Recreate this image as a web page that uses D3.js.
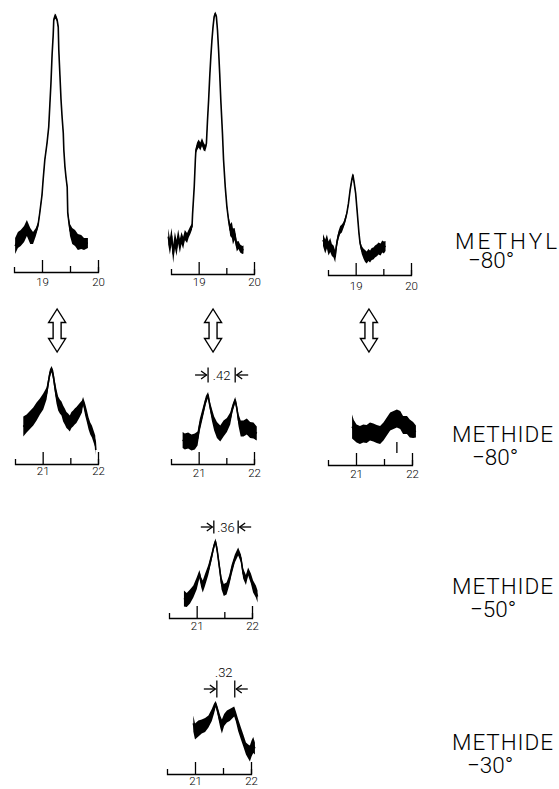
<!DOCTYPE html>
<html>
<head>
<meta charset="utf-8">
<script src="https://cdn.jsdelivr.net/npm/d3@7"></script>
<style>
body{margin:0;background:#fff}
svg{display:block}
</style>
</head>
<body>
<svg id="chart" width="559" height="789"></svg>
<script>
// spectra: [ppm, intensity, noise half-width]
const methylA = [[18.52,13,4],[18.57,16,4],[18.62,17,4],[18.68,19,4],[18.73,22,4],[18.79,18,4],[18.84,17,3],[18.89,20,2],[18.93,23.5,1.5],[18.96,29.5,1],[19.00,38.5,1],[19.02,46,1],[19.05,56,0.8],[19.09,64.5,0.8],[19.12,72.5,0.8],[19.14,83.5,0.6],[19.16,94.5,0.6],[19.18,108.5,0.6],[19.20,118.5,0.6],[19.21,126,0.8],[19.23,128,1.2],[19.25,127.5,1.2],[19.27,126,0.8],[19.29,122.5,0.6],[19.30,111,0.6],[19.32,98.5,0.6],[19.34,86,0.6],[19.36,77,0.6],[19.38,69.5,0.6],[19.39,61,0.6],[19.41,52.5,0.8],[19.43,47,0.8],[19.45,42.5,1],[19.46,29.5,1.5],[19.48,25,2],[19.50,21,3],[19.54,18,4],[19.59,17,4],[19.64,15,4],[19.70,15,3.5],[19.75,14,3],[19.82,14.5,2.5]]
const methylB = [[18.45,18.7,4],[18.48,13.7,4],[18.51,19,4],[18.54,10,4.5],[18.57,17,4],[18.60,13,4],[18.63,18.7,3.5],[18.66,14,3.5],[18.69,18,3],[18.72,15.5,3],[18.75,19.5,2.5],[18.79,18,2.5],[18.82,20.3,2],[18.85,22,2],[18.88,23.7,1.5],[18.89,30,1],[18.92,43.7,0.8],[18.94,57,1],[18.95,62,1.5],[18.97,63.7,2],[19.00,65.3,2],[19.03,63.7,2],[19.06,66,2],[19.09,63.7,2],[19.12,62.8,1.5],[19.14,65.3,1],[19.16,77,0.6],[19.18,87,0.6],[19.20,98.7,0.6],[19.22,108.7,0.6],[19.24,117,0.6],[19.26,123.7,0.6],[19.28,128.7,0.8],[19.30,130.3,1],[19.32,128.7,0.8],[19.34,122,0.6],[19.36,112,0.6],[19.38,100.3,0.6],[19.40,87,0.6],[19.43,70.3,0.6],[19.45,57,0.6],[19.48,43.7,0.8],[19.51,33.7,1],[19.54,27,1.5],[19.57,22,3],[19.60,22,4],[19.62,18.7,4],[19.65,20,3],[19.67,17,3],[19.69,13.7,2.5],[19.72,14.5,2],[19.75,12.8,2],[19.79,12,2],[19.81,12.3,2]]
const methylC = [[18.41,17.5,3],[18.45,14.2,3.5],[18.48,16.7,3.5],[18.51,13.3,3.5],[18.54,15,3.5],[18.57,12.5,3],[18.60,11.7,3],[18.63,9.2,3],[18.65,14.2,2.5],[18.67,17.5,2],[18.69,20,2],[18.72,22.5,2],[18.75,23.3,2],[18.78,25,1.5],[18.81,27.5,1.5],[18.84,30.8,1],[18.87,35.8,1],[18.90,42.5,1],[18.93,47.5,1],[18.95,50,1],[18.97,46.7,1],[19.00,40.8,1],[19.02,34.2,1],[19.04,27.5,1],[19.06,20.8,1],[19.08,15.8,1.5],[19.11,12.5,2],[19.14,10.8,2.5],[19.17,9.5,3],[19.20,8.8,3],[19.23,10,3],[19.26,9.2,3],[19.29,10.5,3],[19.32,10.8,3],[19.35,11.7,3],[19.39,12.5,3],[19.41,13.3,3],[19.45,12.8,3],[19.48,14.2,3],[19.51,13.8,3],[19.54,14.5,2.5]]
const methide80a = [[20.65,18.7,5],[20.71,20.3,4.5],[20.77,22,4.5],[20.83,23.7,4.5],[20.89,26.2,4.5],[20.95,28.7,4],[21.01,31.2,4],[21.07,35.3,3],[21.10,40.3,2.5],[21.13,45.3,2],[21.16,47.5,1.5],[21.19,44.5,2.5],[21.22,38.7,3],[21.25,33.7,3.5],[21.28,30.3,3.5],[21.31,28.7,3.5],[21.34,27.8,3.5],[21.37,25.3,4],[21.40,23.7,4],[21.43,22,4],[21.46,21.2,4],[21.49,20.3,4],[21.52,22,4],[21.55,22.8,4],[21.58,23.7,4],[21.61,24.5,4],[21.67,27,3.5],[21.71,28.7,3],[21.73,31.5,2],[21.77,27,3],[21.80,23.7,3],[21.83,20.3,3],[21.86,17.8,3],[21.89,16.2,3],[21.92,13.7,3],[21.95,11.2,3],[21.96,7,2.5]]
const methide80b = [[20.71,12,4],[20.75,11.2,4],[20.81,11.7,4],[20.87,10.7,4],[20.93,11.2,4],[20.98,12.8,3.5],[21.02,19.5,3],[21.08,26.2,2.5],[21.13,32,2],[21.17,34.5,1.5],[21.20,29.5,2],[21.24,24.5,3],[21.28,20.3,3.5],[21.33,17,4],[21.39,15.3,4],[21.45,17.8,4],[21.51,19.5,3.5],[21.57,22.8,3],[21.61,27.8,2],[21.66,32,1.5],[21.69,27.8,2],[21.72,22,3],[21.76,17.8,4],[21.81,17.8,4],[21.87,18.7,4],[21.93,17,4],[21.99,16.7,4],[22.05,15.3,3.5]]
const methide80c = [[20.93,19.2,6],[20.96,17.5,5],[21.01,15.8,4.5],[21.07,15,4.5],[21.13,15.8,4.5],[21.19,15.5,4.5],[21.25,16.7,4.5],[21.31,16.2,4.5],[21.37,15.5,4.5],[21.43,15,4.5],[21.49,16.7,4.5],[21.55,19.2,4.5],[21.61,21.7,4.5],[21.67,22.5,4.5],[21.73,23.3,4.5],[21.79,22.5,4.5],[21.84,20,4.5],[21.91,20,4.5],[21.96,18.3,4.5],[22.02,17.5,4],[22.07,16.7,3]]
const methide50 = [[20.77,9.8,4],[20.82,9,3.5],[20.88,10.7,3.5],[20.94,13.2,3],[21.00,17.3,3],[21.05,22,2],[21.08,18,2.5],[21.11,15.7,3],[21.15,19,3],[21.21,24,2.5],[21.27,30.7,2],[21.31,35.7,1.5],[21.34,38.2,1.5],[21.37,34,2],[21.41,25.7,2.5],[21.45,17.3,3],[21.49,14,3],[21.54,14.8,3],[21.59,19,2.5],[21.63,24,2.5],[21.69,29.8,2],[21.75,33.2,2],[21.80,29.8,2],[21.84,22.3,2.5],[21.89,19,2.5],[21.93,23.2,2],[21.98,19.8,2.5],[22.02,15.7,3],[22.07,13.2,3],[22.10,10.7,3]]
const methide30 = [[20.97,25.3,4],[21.00,21.2,4],[21.06,22.8,4],[21.12,23.7,3.5],[21.18,24.5,3.5],[21.24,26.2,3],[21.30,29.5,3],[21.34,32.8,2.5],[21.37,35,1.5],[21.40,32,2],[21.45,26.2,3],[21.48,23.7,3.5],[21.52,27,3],[21.57,28.7,3],[21.62,29.5,3],[21.70,31.2,2.5],[21.73,28.7,2.5],[21.77,24.5,3],[21.82,20.3,3],[21.86,17,3],[21.91,12.8,3],[21.95,11.2,3.5],[21.98,10.3,4],[22.01,12.8,4],[22.04,14.5,4],[22.07,12.8,3]]
const methide80cMarks = [21.73]

// axes (ppm)
const methylRange = [18.5, 20], methylTicks = [19, 20], methylHalf = [19.5]
const methideRange = [20.5, 22], methideTicks = [21, 22], methideHalf = [21.5]

// coupling splittings: [from ppm, to ppm, label]
const splitValues = [[21.17, 21.66, ".42"], [21.31, 21.75, ".36"], [21.39, 21.71, ".32"]]
// methyl <-> methide exchange arrows, ppm under each methyl peak
const exchangeAt = [19.27, 19.26, 19.24]

const conditions = [["METHYL", "−80°"], ["METHIDE", "−80°"], ["METHIDE", "−50°"], ["METHIDE", "−30°"]]

const FONT = "Roboto, 'DejaVu Sans', sans-serif"

const panels = [
	{data: methylA, dom: methylRange, major: methylTicks, minor: methylHalf, px: [14, 98], base: 272, pad: 6},
	{data: methylB, dom: methylRange, major: methylTicks, minor: methylHalf, px: [171, 254], base: 274, pad: 4},
	{data: methylC, dom: methylRange, major: methylTicks, minor: methylHalf, px: [328, 411], base: 275, pad: 7},
	{data: methide80a, dom: methideRange, major: methideTicks, minor: methideHalf, px: [15, 98], base: 464, pad: 3},
	{data: methide80b, dom: methideRange, major: methideTicks, minor: methideHalf, px: [171, 254], base: 464, pad: 5},
	{data: methide80c, dom: methideRange, major: methideTicks, minor: methideHalf, px: [328, 412], base: 465, pad: 5, marks: methide80cMarks},
	{data: methide50, dom: methideRange, major: methideTicks, minor: methideHalf, px: [169, 252], base: 618, pad: 4},
	{data: methide30, dom: methideRange, major: methideTicks, minor: methideHalf, px: [167, 251], base: 774, pad: 3}
]
const splitLayout = [
	{panel: 4, level: 44.5, half: 3.8, above: false},
	{panel: 6, level: 45.5, half: 3.3, above: false},
	{panel: 7, level: 42.5, half: 4.3, above: true}
]
const labelLayout = [
	{x: 455, y: 249, w: 102, x2: 468, y2: 268},
	{x: 452, y: 442, w: 101, x2: 472, y2: 465},
	{x: 452, y: 594, w: 101, x2: 470, y2: 617},
	{x: 452, y: 750, w: 101, x2: 467, y2: 773}
]

const svg = d3.select("#chart")
const INT_MAX = 130, INT_PX = 260

panels.forEach(p => {
	p.x = d3.scaleLinear().domain(p.dom).range(p.px)
	p.y = d3.scaleLinear().domain([0, INT_MAX]).range([p.base, p.base - INT_PX])
	const g = svg.append("g")

	// noise band + trace
	g.append("path").datum(p.data)
		.attr("d", d3.area().x(d => p.x(d[0])).y0(d => p.y(d[1] - d[2])).y1(d => p.y(d[1] + d[2])))
		.attr("fill", "#000")
	g.append("path").datum(p.data)
		.attr("d", d3.line().x(d => p.x(d[0])).y(d => p.y(d[1])))
		.attr("fill", "none").attr("stroke", "#000").attr("stroke-width", 1.6).attr("stroke-linejoin", "round")

	// scale bar: tall integer ticks, short half ticks, labels below
	const axG = g.append("g").attr("transform", `translate(0,${p.base})`)
	axG.append("g").call(d3.axisTop(p.x).tickValues(p.major).tickSize(12).tickSizeOuter(5).tickFormat(""))
	axG.append("g").call(d3.axisTop(p.x).tickValues(p.minor).tickSize(6).tickFormat(""))
		.call(a => a.select(".domain").remove())
	axG.append("g").call(d3.axisBottom(p.x).tickValues(p.major).tickSize(0).tickPadding(p.pad).tickFormat(d3.format("d")))
		.call(a => a.select(".domain").remove())
	axG.selectAll("path,line").attr("stroke", "#000").attr("stroke-width", 1.3)
	axG.selectAll("text").attr("font-family", FONT).attr("font-size", 11.5).attr("font-weight", 300).attr("fill", "#000")

	if(p.marks){
		g.selectAll(".mk").data(p.marks).enter().append("line")
			.attr("x1", d => p.x(d)).attr("x2", d => p.x(d))
			.attr("y1", p.y(11.5)).attr("y2", p.y(6))
			.attr("stroke", "#000").attr("stroke-width", 1.3)
	}
})

// splitting markers  →|.42|←
splitValues.forEach(([a, b, lab], i) => {
	const L = splitLayout[i], p = panels[L.panel]
	const xa = p.x(a), xb = p.x(b), yc = p.y(L.level)
	const g = svg.append("g").attr("stroke", "#000").attr("stroke-width", 1.3).attr("fill", "none")
	;[xa, xb].forEach(xv => g.append("line")
		.attr("x1", xv).attr("x2", xv).attr("y1", p.y(L.level + L.half)).attr("y2", p.y(L.level - L.half)))
	g.append("line").attr("x1", xa - 13).attr("x2", xa - 1.5).attr("y1", yc).attr("y2", yc)
	g.append("path").attr("d", `M${xa - 7},${yc - 4}L${xa - 1.5},${yc}L${xa - 7},${yc + 4}`)
	g.append("line").attr("x1", xb + 13).attr("x2", xb + 1.5).attr("y1", yc).attr("y2", yc)
	g.append("path").attr("d", `M${xb + 7},${yc - 4}L${xb + 1.5},${yc}L${xb + 7},${yc + 4}`)
	svg.append("text")
		.attr("x", (xa + xb) / 2 + (L.above ? -2 : 0))
		.attr("y", L.above ? p.y(L.level + L.half + 1.5) : yc)
		.attr("dy", L.above ? 0 : "0.36em")
		.attr("text-anchor", "middle")
		.attr("font-family", FONT).attr("font-size", 13).attr("font-weight", 300)
		.text(lab)
})

// hollow double arrows between the methyl and methide rows
const arrowPath = "M0,-21.5L8.5,-8L4,-8L4,8L8.5,8L0,21.5L-8.5,8L-4,8L-4,-8L-8.5,-8Z"
svg.selectAll(".xarrow").data(exchangeAt).enter().append("path")
	.attr("class", "xarrow")
	.attr("transform", (d, i) => `translate(${panels[i].x(d)},330.5)`)
	.attr("d", arrowPath)
	.attr("fill", "#fff").attr("stroke", "#000").attr("stroke-width", 1.4).attr("stroke-linejoin", "miter")

// condition labels, two lines in one text block
conditions.forEach(([name, temp], i) => {
	const L = labelLayout[i]
	const t = svg.append("text")
		.attr("font-family", FONT).attr("font-size", 22.5).attr("font-weight", 300)
	t.append("tspan").attr("x", L.x).attr("y", L.y)
		.attr("textLength", L.w).attr("lengthAdjust", "spacing")
		.text(name)
	t.append("tspan").attr("x", L.x2).attr("y", L.y2)
		.text(temp)
})
</script>
</body>
</html>
